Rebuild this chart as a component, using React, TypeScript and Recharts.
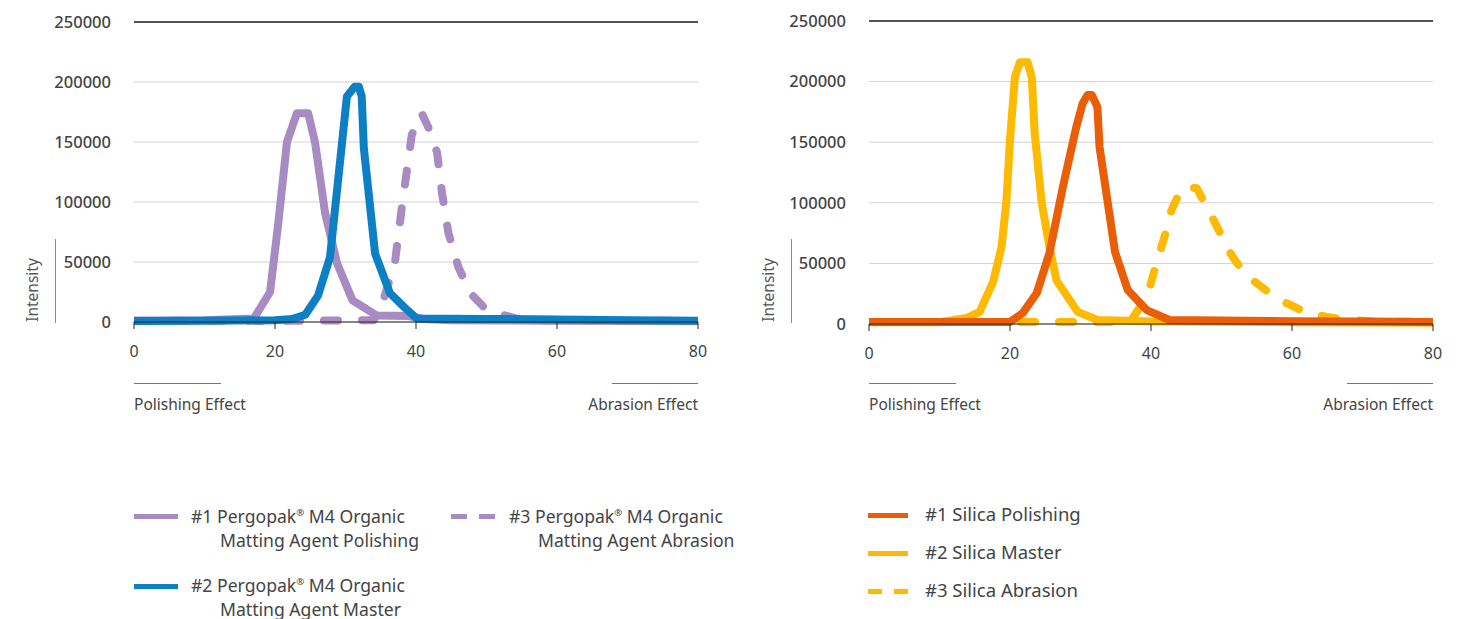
import React from 'react';
import { LineChart, Line, XAxis, YAxis, CartesianGrid, ReferenceLine } from 'recharts';

const xTicks = [0, 20, 40, 60, 80];
const yTicks = [0, 50000, 100000, 150000, 200000, 250000];

// Pergopak M4 organic matting agent
const m4PolishingX = [0, 10, 17, 19.3, 20.4, 21.7, 23.1, 24.7, 25.7, 27.1, 28.8, 31, 34.4, 39, 41, 45, 60, 80];
const m4PolishingY = [1000, 1500, 3000, 25000, 79000, 150000, 174000, 174000, 149000, 91000, 49000, 18000, 5500, 5000, 2500, 1500, 1000, 800];

const m4MasterX = [0, 10, 20, 22.4, 24.3, 26.1, 27.8, 30.2, 31.3, 31.9, 32.3, 32.6, 34.2, 36.3, 38.4, 40.1, 50, 60, 70, 80];
const m4MasterY = [800, 1000, 1500, 2500, 6000, 22000, 54000, 188000, 196000, 196000, 188000, 145000, 57000, 24000, 12000, 3000, 2600, 2000, 1500, 1000];

const m4AbrasionX = [0, 20, 34, 35.3, 37, 38, 39.4, 40.8, 41.7, 43, 43.7, 44.6, 46, 47.7, 50, 55, 60, 80];
const m4AbrasionY = [1000, 1000, 1500, 17000, 49000, 96000, 156000, 174000, 163000, 141000, 107000, 74000, 46000, 24000, 10000, 1500, 1500, 800];

// Silica references
const silicaPolishingX = [0, 10, 20, 21.8, 23.8, 25.6, 27.5, 29.4, 30.3, 31, 31.6, 32.4, 32.7, 34.9, 36.7, 39.4, 42.6, 50, 60, 70, 80];
const silicaPolishingY = [1650, 1650, 1650, 9000, 25600, 58600, 113000, 162500, 182000, 189000, 189000, 179000, 146000, 59400, 28000, 11500, 3300, 2800, 2300, 2000, 1650];

const silicaMasterX = [0, 10, 13.9, 15.7, 17.6, 18.8, 19.5, 20, 20.7, 21.4, 22.5, 23.1, 23.5, 24.5, 25.6, 26.6, 29.6, 32.4, 40, 60, 80];
const silicaMasterY = [1500, 1500, 5000, 10000, 34700, 63500, 102000, 152000, 204000, 216000, 216000, 203000, 157600, 100000, 63500, 36000, 10000, 3300, 2000, 1500, 1000];

const silicaAbrasionX = [0, 20, 37, 38, 39.6, 40.5, 42.2, 42.9, 44.1, 44.6, 46.5, 47.9, 49.4, 50.7, 52.1, 54, 56.8, 59.2, 62.2, 64.9, 68.1, 72, 80];
const silicaAbrasionY = [1650, 1650, 1650, 10000, 25600, 44500, 77600, 94000, 109000, 113000, 112000, 96500, 80000, 63500, 51000, 38000, 25600, 17300, 9000, 5800, 3300, 2000, 1650];

const PURPLE = '#a78bc2';
const BLUE = '#0d80c5';
const ORANGE = '#eb5e08';
const YELLOW = '#fdba00';

const FONT = '"Noto Sans", sans-serif';
const TEXT = '#444';

const toPoints = (xs: number[], ys: number[]) => xs.map((x, i) => ({ x, y: ys[i] }));

type Series = { key: string; xs: number[]; ys: number[]; color: string; dashed?: boolean };

// drawn bottom to top
const leftSeries: Series[] = [
  { key: 'm4Abrasion', xs: m4AbrasionX, ys: m4AbrasionY, color: PURPLE, dashed: true },
  { key: 'm4Polishing', xs: m4PolishingX, ys: m4PolishingY, color: PURPLE },
  { key: 'm4Master', xs: m4MasterX, ys: m4MasterY, color: BLUE },
];

const rightSeries: Series[] = [
  { key: 'silicaAbrasion', xs: silicaAbrasionX, ys: silicaAbrasionY, color: YELLOW, dashed: true },
  { key: 'silicaMaster', xs: silicaMasterX, ys: silicaMasterY, color: YELLOW },
  { key: 'silicaPolishing', xs: silicaPolishingX, ys: silicaPolishingY, color: ORANGE },
];

const abs = (left: number, top: number, extra: React.CSSProperties = {}): React.CSSProperties => ({
  position: 'absolute',
  left,
  top,
  ...extra,
});

const DistributionChart: React.FC<{ series: Series[]; left: number; top: number; height: number }> = ({
  series,
  left,
  top,
  height,
}) => (
  <div style={abs(left, 0)}>
    <LineChart width={720} height={height} margin={{ top, right: 22, bottom: 0, left: 0 }}>
      <CartesianGrid vertical={false} stroke="#d2d2d2" />
      <XAxis
        type="number"
        dataKey="x"
        domain={[0, 80]}
        ticks={xTicks}
        allowDataOverflow
        height={48}
        tickSize={7}
        tickMargin={17}
        axisLine={{ stroke: '#222' }}
        tickLine={{ stroke: '#222' }}
        tick={{ fontSize: 16, fill: TEXT, fontFamily: FONT }}
      />
      <YAxis
        type="number"
        domain={[0, 250000]}
        ticks={yTicks}
        width={134}
        tickSize={0}
        tickMargin={23}
        axisLine={false}
        tickLine={false}
        tick={{ fontSize: 16.5, fill: TEXT, fontFamily: FONT, fontWeight: 500 }}
      />
      <ReferenceLine y={250000} stroke="#222" strokeWidth={1.5} />
      {series.map((s) => (
        <Line
          key={s.key}
          data={toPoints(s.xs, s.ys)}
          dataKey="y"
          type="linear"
          stroke={s.color}
          strokeWidth={8}
          strokeLinecap="round"
          strokeLinejoin="round"
          strokeDasharray={s.dashed ? '14 24' : undefined}
          dot={false}
          activeDot={false}
          isAnimationActive={false}
        />
      ))}
    </LineChart>
  </div>
);

// axis side notes: rotated "Intensity" with its bar, and the effect captions under the x axis
const AxisNotes: React.FC<{ plotLeft: number; plotRight: number; labelX: number; barX: number }> = ({
  plotLeft,
  plotRight,
  labelX,
  barX,
}) => (
  <>
    <div
      style={abs(labelX, 290, {
        transform: 'translate(-50%, -50%) rotate(-90deg)',
        fontSize: 15.5,
        color: '#555',
        whiteSpace: 'nowrap',
      })}
    >
      Intensity
    </div>
    <div style={abs(barX, 239, { width: 1, height: 84, background: '#8a8a8a' })} />
    <div style={abs(plotLeft, 383, { width: 87, height: 1, background: '#777' })} />
    <div style={abs(plotRight - 86, 383, { width: 86, height: 1, background: '#777' })} />
    <div style={abs(plotLeft, 394, { fontSize: 15.5, color: TEXT, lineHeight: '20px', whiteSpace: 'nowrap' })}>
      Polishing Effect
    </div>
    <div
      style={abs(plotRight, 394, {
        transform: 'translateX(-100%)',
        fontSize: 15.5,
        color: TEXT,
        lineHeight: '20px',
        whiteSpace: 'nowrap',
      })}
    >
      Abrasion Effect
    </div>
  </>
);

const Swatch: React.FC<{ left: number; y: number; width: number; color: string; dashed?: boolean }> = ({
  left,
  y,
  width,
  color,
  dashed,
}) =>
  dashed ? (
    <>
      <div style={abs(left, y - 2.5, { width: width * 0.36, height: 5, background: color })} />
      <div style={abs(left + width * 0.64, y - 2.5, { width: width * 0.36, height: 5, background: color })} />
    </>
  ) : (
    <div style={abs(left, y - 2.5, { width, height: 5, background: color })} />
  );

// small raised registered mark that leaves the line box alone
const Reg = () => (
  <span style={{ fontSize: '0.55em', position: 'relative', top: '-0.7em', lineHeight: 0 }}>®</span>
);

const legendText: React.CSSProperties = { fontSize: 18.5, color: TEXT, lineHeight: '24px', whiteSpace: 'nowrap' };
const m4LegendText: React.CSSProperties = { ...legendText, fontSize: 17.6 };

const App: React.FC = () => (
  <div style={{ position: 'absolute', left: 0, top: 0, width: 1461, height: 619, background: '#fff', fontFamily: FONT }}>
    <DistributionChart series={leftSeries} left={0} top={22} height={370} />
    <DistributionChart series={rightSeries} left={735} top={21} height={372} />

    <AxisNotes plotLeft={134} plotRight={698} labelX={32} barX={55} />
    <AxisNotes plotLeft={869} plotRight={1433} labelX={768} barX={791} />

    {/* Pergopak M4 legend */}
    <Swatch left={134} y={516} width={44} color={PURPLE} />
    <div style={abs(191, 504, m4LegendText)}>
      #1 Pergopak<Reg /> M4 Organic
      <div style={{ paddingLeft: 29 }}>Matting Agent Polishing</div>
    </div>
    <Swatch left={451} y={516} width={44} color={PURPLE} dashed />
    <div style={abs(509, 504, m4LegendText)}>
      #3 Pergopak<Reg /> M4 Organic
      <div style={{ paddingLeft: 29 }}>Matting Agent Abrasion</div>
    </div>
    <Swatch left={134} y={586} width={44} color={BLUE} />
    <div style={abs(191, 573, m4LegendText)}>
      #2 Pergopak<Reg /> M4 Organic
      <div style={{ paddingLeft: 29 }}>Matting Agent Master</div>
    </div>

    {/* Silica legend */}
    <Swatch left={868} y={515} width={40} color={ORANGE} />
    <div style={abs(925, 502, legendText)}>#1 Silica Polishing</div>
    <Swatch left={868} y={553} width={40} color={YELLOW} />
    <div style={abs(925, 540, legendText)}>#2 Silica Master</div>
    <Swatch left={868} y={591} width={40} color={YELLOW} dashed />
    <div style={abs(925, 578, legendText)}>#3 Silica Abrasion</div>
  </div>
);

export default App;
